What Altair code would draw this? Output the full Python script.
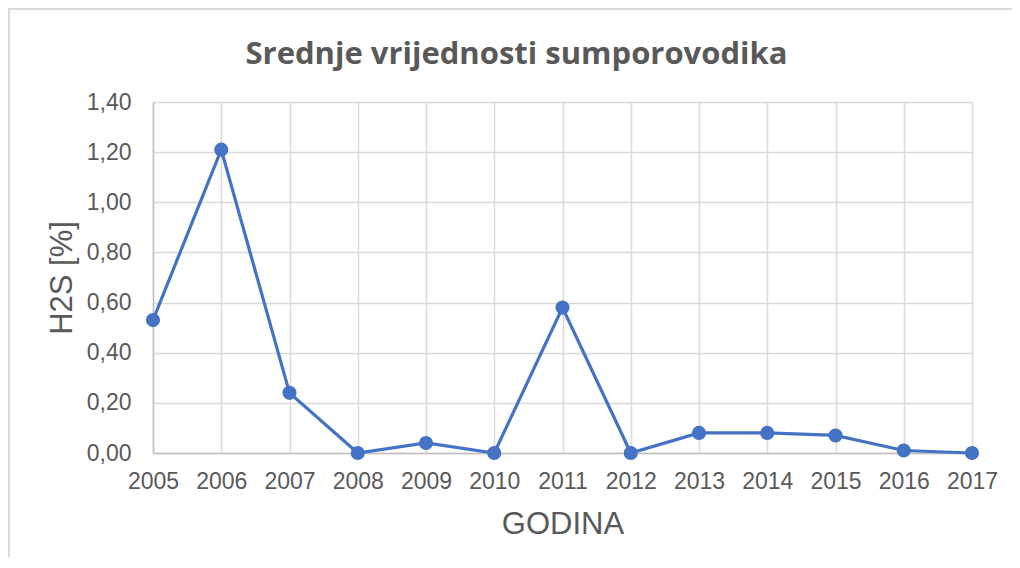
import altair as alt
import pandas as pd

years = ["2005", "2006", "2007", "2008", "2009", "2010", "2011",
         "2012", "2013", "2014", "2015", "2016", "2017"]
h2s = [0.53, 1.21, 0.24, 0.00, 0.04, 0.00, 0.58,
       0.00, 0.08, 0.08, 0.07, 0.01, 0.00]

df = pd.DataFrame({"godina": years, "h2s": h2s})

TEXT = "#595959"
BLUE = "#4472C4"

x_enc = alt.X(
    "godina:O",
    sort=years,
    scale=alt.Scale(type="point", padding=0),
    axis=alt.Axis(
        title="GODINA",
        labelAngle=0,
        labelFontSize=23,
        labelColor=TEXT,
        labelFont="Liberation Sans",
        labelPadding=17,
        ticks=False,
        tickSize=0,
        grid=True,
        gridColor="#d9d9d9",
        gridWidth=1.5,
        domainColor="#bfbfbf",
        domainWidth=1.5,
        titleFontSize=31,
        titleFontWeight="normal",
        titleColor=TEXT,
        titleFont="Liberation Sans",
        titleBaseline="alphabetic",
        titleY=80,
    ),
)
y_enc = alt.Y(
    "h2s:Q",
    scale=alt.Scale(domain=[0, 1.4], nice=False),
    axis=alt.Axis(
        title="H2S [%]",
        values=[0, 0.2, 0.4, 0.6, 0.8, 1.0, 1.2, 1.4],
        format=".2f",
        labelFontSize=23,
        labelColor=TEXT,
        labelFont="Liberation Sans",
        labelPadding=22,
        ticks=False,
        tickSize=0,
        grid=True,
        gridColor="#d9d9d9",
        gridWidth=1.5,
        domainColor="#bfbfbf",
        domainWidth=1.5,
        titleFontSize=31,
        titleFontWeight="normal",
        titleColor=TEXT,
        titleFont="Liberation Sans",
        titleBaseline="alphabetic",
        titleX=-82,
    ),
)

base = alt.Chart(df)

frame_top = base.mark_rule(stroke="#d9d9d9", strokeWidth=1.5).encode(
    x=alt.value(-144.5), x2=alt.value(864), y=alt.value(-93.5),
)
frame_left = base.mark_rule(stroke="#d9d9d9", strokeWidth=1.5).encode(
    x=alt.value(-144.5), y=alt.value(-93.5), y2=alt.value(455),
)

line = base.mark_line(color=BLUE, strokeWidth=3.2).encode(x=x_enc, y=y_enc)
points = base.mark_point(filled=True, color=BLUE, size=200, opacity=1).encode(x=x_enc, y=y_enc)

chart = (
    alt.layer(frame_top, frame_left, line, points)
    .properties(
        width=819,
        height=351,
        autosize=alt.AutoSizeParams(type="none"),
        padding={"left": 145, "top": 94, "right": 40, "bottom": 106},
        title=alt.TitleParams(
            "Srednje vrijednosti sumporovodika",
            font="Liberation Sans Narrow, Arial Narrow, Open Sans",
            fontSize=31,
            fontWeight="bold",
            color=TEXT,
            anchor="middle",
            frame="group",
            dx=-46,
            dy=87,
            baseline="alphabetic",
            offset=0,
        ),
    )
    .configure_view(stroke=None)
    .configure(locale={"number": {"decimal": ",", "thousands": ".",
                                   "grouping": [3], "currency": ["", " €"]}})
)

chart.save("out.html", embed_options={"renderer": "svg", "actions": False})
